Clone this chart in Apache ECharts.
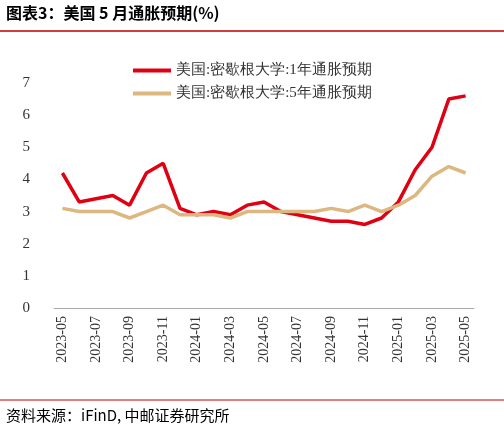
<!DOCTYPE html>
<html>
<head>
<meta charset="utf-8">
<script src="https://cdn.jsdelivr.net/npm/echarts@6/dist/echarts.min.js"></script>
<style>html,body{margin:0;padding:0;background:#fff}#chart{width:504px;height:445px}</style>
</head>
<body>
<div id="chart"></div>
<script>
var months = ['2023-05','2023-06','2023-07','2023-08','2023-09','2023-10','2023-11','2023-12',
  '2024-01','2024-02','2024-03','2024-04','2024-05','2024-06','2024-07','2024-08','2024-09',
  '2024-10','2024-11','2024-12','2025-01','2025-02','2025-03','2025-04','2025-05'];
var oneYear = [4.2,3.3,3.4,3.5,3.2,4.2,4.5,3.1,2.9,3.0,2.9,3.2,3.3,3.0,2.9,2.8,2.7,2.7,2.6,2.8,3.3,4.3,5.0,6.5,6.6];
var fiveYear = [3.1,3.0,3.0,3.0,2.8,3.0,3.2,2.9,2.9,2.9,2.8,3.0,3.0,3.0,3.0,3.0,3.1,3.0,3.2,3.0,3.2,3.5,4.1,4.4,4.2];
var seriesNames = ['美国:密歇根大学:1年通胀预期', '美国:密歇根大学:5年通胀预期'];

var font = '"Noto Sans CJK SC", "Noto Sans", sans-serif';
var serif = '"Liberation Serif", "DejaVu Serif", serif';
var chart = echarts.init(document.getElementById('chart'));
chart.setOption({
  animation: false,
  graphic: [
    { type: 'text', left: 6, top: 5, style: { text: '图表3：美国 5 月通胀预期(%)', font: 'bold 16px ' + font, fill: '#000' } },
    { type: 'line', shape: { x1: 0, y1: 31, x2: 504, y2: 31 }, style: { stroke: '#c00000', lineWidth: 1.5 } },
    { type: 'line', shape: { x1: 0, y1: 400, x2: 504, y2: 400 }, style: { stroke: '#c00000', lineWidth: 1 } },
    { type: 'text', left: 6, top: 408, style: { text: '资料来源：iFinD, 中邮证券研究所', font: '15px ' + font, fill: '#000' } }
  ],
  legend: {
    orient: 'vertical', left: 128, top: 58, itemGap: 8,
    itemWidth: 38, itemHeight: 4, icon: 'rect',
    textStyle: { fontFamily: serif, fontSize: 15, color: '#333' },
    data: seriesNames
  },
  grid: { left: 54, right: 30, top: 83, bottom: 137 },
  xAxis: {
    type: 'category', data: months, boundaryGap: ['3%', '3%'],
    axisLine: { lineStyle: { color: '#aaa' } },
    axisTick: { show: false },
    axisLabel: { rotate: 90, interval: 1, fontFamily: serif, fontSize: 14, color: '#333' }
  },
  yAxis: {
    type: 'value', min: 0, max: 7, interval: 1,
    splitLine: { show: false },
    axisLabel: { fontFamily: serif, fontSize: 15, color: '#333', margin: 24 }
  },
  series: [
    { name: seriesNames[0], type: 'line', data: oneYear, symbol: 'none', lineStyle: { width: 3.5, color: '#e00012' }, itemStyle: { color: '#e00012' } },
    { name: seriesNames[1], type: 'line', data: fiveYear, symbol: 'none', lineStyle: { width: 3.5, color: '#dcb77f' }, itemStyle: { color: '#dcb77f' } }
  ]
});
</script>
</body>
</html>
